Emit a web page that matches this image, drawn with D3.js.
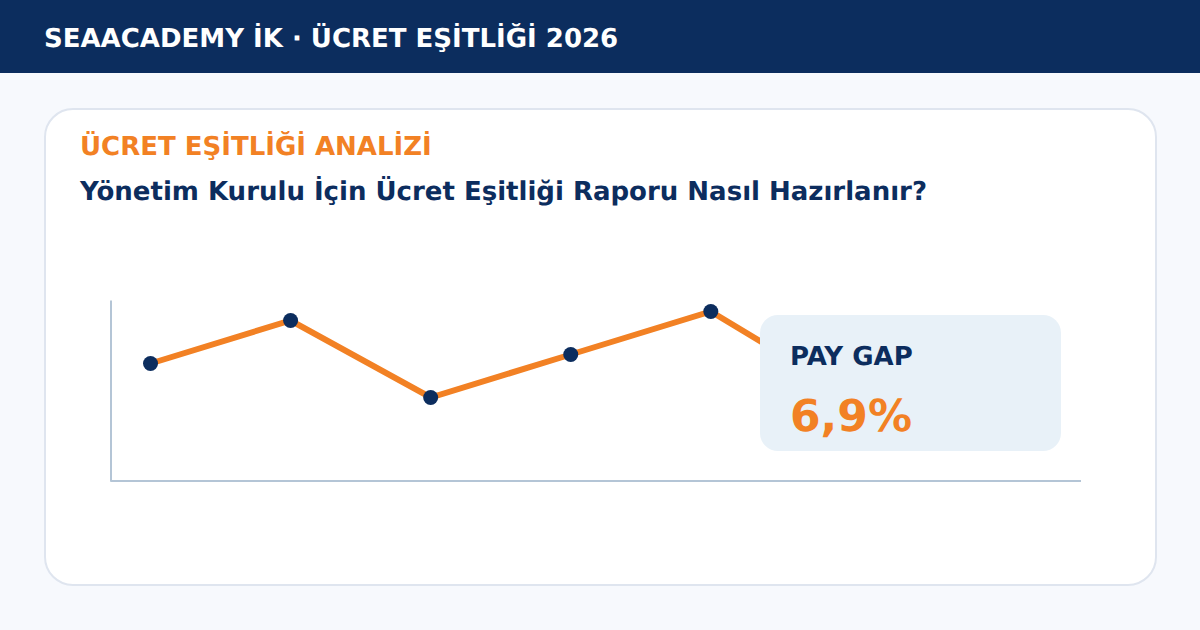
<!DOCTYPE html>
<html>
<head>
    <meta charset="utf-8">
    <title>Ücret Eşitliği</title>
    <script src="https://d3js.org/d3.v7.min.js"></script>
    <style>
        html, body { margin: 0; padding: 0; background: #f7f9fd; }
        svg { display: block; font-family: "DejaVu Sans", sans-serif; font-weight: bold; text-rendering: geometricPrecision; }
    </style>
</head>
<body>
    <div id="chart"></div>
    <script>
    // values, last point sits behind the card
    var periods = [1, 2, 3, 4, 5, 6];
    var gapValues = [118, 161, 84, 127, 170, 86];

    var headerText = "SEAACADEMY İK · ÜCRET EŞİTLİĞİ 2026";
    var kickerText = "ÜCRET EŞİTLİĞİ ANALİZİ";
    var titleText = "Yönetim Kurulu İçin Ücret Eşitliği Raporu Nasıl Hazırlanır?";
    var cardLabel = "PAY GAP";
    var cardValue = "6,9%";

    var navy = "#0c2d5e", orange = "#f28124";

    var svg = d3.select("#chart").append("svg")
        .attr("width", 1200)
        .attr("height", 630);

    svg.append("rect").attr("width", 1200).attr("height", 630).attr("fill", "#f7f9fd");

    // Header band
    svg.append("rect").attr("width", 1200).attr("height", 73).attr("fill", navy);
    svg.append("text").attr("x", 44).attr("y", 47)
        .attr("font-size", 26).attr("fill", "#fff").text(headerText);

    // White panel
    svg.append("rect")
        .attr("x", 45).attr("y", 109).attr("width", 1111).attr("height", 476).attr("rx", 28)
        .attr("fill", "#fff").attr("stroke", "#dfe5ef").attr("stroke-width", 2);

    svg.append("text").attr("x", 80).attr("y", 155)
        .attr("font-size", 26).attr("fill", orange).text(kickerText);
    svg.append("text").attr("x", 80).attr("y", 200)
        .attr("font-size", 26).attr("fill", navy).text(titleText);

    // Scales
    var x = d3.scaleLinear().domain([0.7142857, 7.6428571]).range([110.5, 1081]);
    var y = d3.scaleLinear().domain([0, 181]).range([481.5, 300.5]);

    var axisColor = "#b4c5d6";
    svg.append("g").attr("transform", "translate(0,481)")
        .call(d3.axisBottom(x).tickValues([]).tickSizeOuter(0).offset(0));
    svg.append("g").attr("transform", "translate(111,0)")
        .call(d3.axisLeft(y).tickValues([]).tickSizeOuter(0).offset(0));
    svg.selectAll(".domain").attr("stroke", axisColor).attr("stroke-width", 2);

    var line = d3.line()
        .x(function (d, i) { return x(periods[i]); })
        .y(function (d) { return y(d); });

    svg.append("path")
        .datum(gapValues)
        .attr("d", line)
        .attr("fill", "none")
        .attr("stroke", orange)
        .attr("stroke-width", 6);

    svg.append("g").selectAll("circle")
        .data(gapValues)
        .enter().append("circle")
        .attr("cx", function (d, i) { return x(periods[i]); })
        .attr("cy", function (d) { return y(d); })
        .attr("r", 7.5)
        .attr("fill", navy);

    // Callout card on top of the line
    svg.append("rect")
        .attr("x", 760).attr("y", 315).attr("width", 301).attr("height", 136).attr("rx", 18)
        .attr("fill", "#e8f1f8");
    svg.append("text").attr("x", 790).attr("y", 365)
        .attr("font-size", 26).attr("fill", navy).text(cardLabel);
    svg.append("text").attr("x", 790).attr("y", 431)
        .attr("font-size", 44).attr("fill", orange).text(cardValue);
    </script>
</body>
</html>
